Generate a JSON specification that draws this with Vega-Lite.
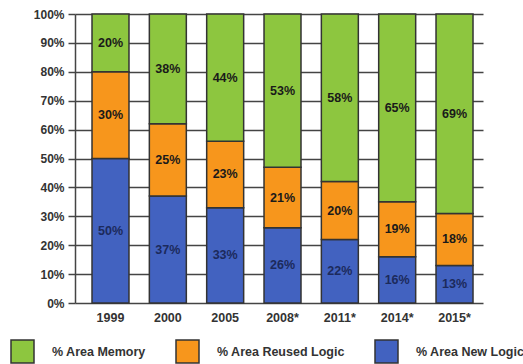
{
  "$schema": "https://vega.github.io/schema/vega-lite/v6.json",
  "autosize": {"type": "none"},
  "width": 408,
  "height": 289,
  "padding": {"left": 75, "top": 14, "right": 40, "bottom": 61},
  "background": "white",
  "config": {
    "view": {"stroke": null},
    "font": "Liberation Sans",
    "axisY": {
      "labelOverlap": false, "title": null, "format": ".0%",
      "values": [0, 0.1, 0.2, 0.3, 0.4, 0.5, 0.6, 0.7, 0.8, 0.9, 1],
      "grid": true, "gridColor": "#444444", "gridWidth": 1.5, "gridOpacity": 1,
      "domain": true, "domainColor": "#444444", "domainWidth": 1.5,
      "ticks": true, "tickColor": "#444444", "tickWidth": 1.5, "tickSize": 7,
      "labelFont": "Liberation Sans", "labelFontWeight": "bold", "labelFontSize": 12,
      "labelColor": "#333333", "labelPadding": 4
    }
  },
  "data": {
    "values": [
      {"year": "1999", "series": "% Area New Logic", "value": 50},
      {"year": "1999", "series": "% Area Reused Logic", "value": 30},
      {"year": "1999", "series": "% Area Memory", "value": 20},
      {"year": "2000", "series": "% Area New Logic", "value": 37},
      {"year": "2000", "series": "% Area Reused Logic", "value": 25},
      {"year": "2000", "series": "% Area Memory", "value": 38},
      {"year": "2005", "series": "% Area New Logic", "value": 33},
      {"year": "2005", "series": "% Area Reused Logic", "value": 23},
      {"year": "2005", "series": "% Area Memory", "value": 44},
      {"year": "2008*", "series": "% Area New Logic", "value": 26},
      {"year": "2008*", "series": "% Area Reused Logic", "value": 21},
      {"year": "2008*", "series": "% Area Memory", "value": 53},
      {"year": "2011*", "series": "% Area New Logic", "value": 22},
      {"year": "2011*", "series": "% Area Reused Logic", "value": 20},
      {"year": "2011*", "series": "% Area Memory", "value": 58},
      {"year": "2014*", "series": "% Area New Logic", "value": 16},
      {"year": "2014*", "series": "% Area Reused Logic", "value": 19},
      {"year": "2014*", "series": "% Area Memory", "value": 65},
      {"year": "2015*", "series": "% Area New Logic", "value": 13},
      {"year": "2015*", "series": "% Area Reused Logic", "value": 18},
      {"year": "2015*", "series": "% Area Memory", "value": 69}
    ]
  },
  "transform": [
    {"calculate": "indexof(['% Area New Logic','% Area Reused Logic','% Area Memory'], datum.series)", "as": "ord"},
    {"stack": "value", "groupby": ["year"], "sort": [{"field": "ord", "order": "ascending"}], "offset": "normalize", "as": ["y0", "y1"]},
    {"calculate": "(datum.y0 + datum.y1) / 2", "as": "ymid"},
    {"calculate": "datum.value + '%'", "as": "label"}
  ],
  "encoding": {
    "x": {
      "field": "year", "type": "ordinal",
      "scale": {"paddingInner": 0.355, "paddingOuter": 0.2355, "align": 0.63},
      "axis": {
        "title": null, "labelAngle": 0, "domain": false, "ticks": false,
        "labelFont": "Liberation Sans", "labelFontWeight": "bold", "labelFontSize": 12.5,
        "labelColor": "#333333", "labelPadding": 8
      }
    }
  },
  "layer": [
    {
      "mark": {"type": "bar", "stroke": "#333333", "strokeWidth": 1.5},
      "encoding": {
        "y": {
          "field": "y0", "type": "quantitative",
          "scale": {"domain": [0, 1], "nice": false},
          "axis": {"title": null, "format": ".0%", "labelOverlap": false}
        },
        "y2": {"field": "y1"},
        "color": {
          "field": "series", "type": "nominal",
          "scale": {
            "domain": ["% Area Memory", "% Area Reused Logic", "% Area New Logic"],
            "range": ["#8dc63f", "#f7961c", "#4262c0"]
          },
          "legend": {
            "title": null, "orient": "none", "legendX": -65, "legendY": 325,
            "direction": "horizontal", "padding": 0, "columnPadding": 27,
            "symbolType": "square", "symbolSize": 529, "symbolStrokeColor": "#333333",
            "symbolStrokeWidth": 1.5, "symbolOpacity": 1,
            "labelFont": "Liberation Sans", "labelFontWeight": "bold", "labelFontSize": 12.5,
            "labelColor": "#333333", "labelOffset": 17, "labelLimit": 0
          }
        }
      }
    },
    {
      "mark": {"type": "text", "font": "Liberation Sans", "fontWeight": "bold", "fontSize": 12.5, "baseline": "middle"},
      "encoding": {
        "y": {"field": "ymid", "type": "quantitative", "axis": {"title": null, "format": ".0%", "labelOverlap": false}},
        "text": {"field": "label"},
        "color": {
          "condition": {"test": "datum.series === '% Area New Logic'", "value": "#1c2a5c"},
          "value": "#1a1a1a"
        }
      }
    }
  ]
}
